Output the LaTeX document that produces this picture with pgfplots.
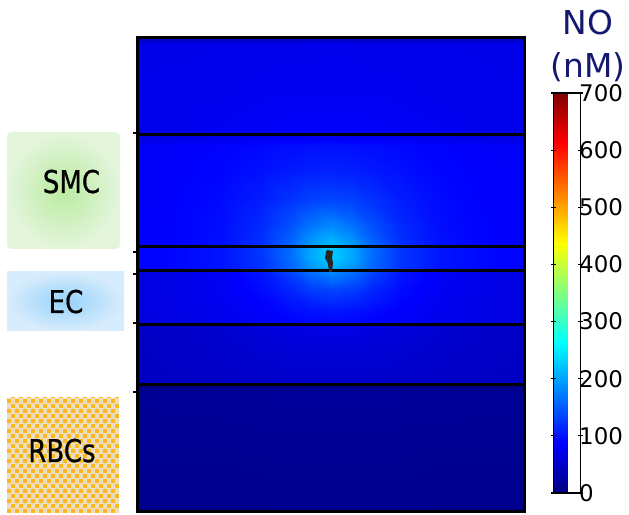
\documentclass[border=0pt]{standalone}
\usepackage{fontspec}
\setmainfont{DejaVu Sans}
\newfontfamily\lblfont[FakeStretch=0.83,FakeBold=0.6]{DejaVu Sans}
\usepackage{pgfplots}
\pgfplotsset{compat=1.18}
\usepackage{pgfplotstable}
\definecolor{navytitle}{RGB}{20,25,110}
\definecolor{smcin}{RGB}{185,235,160}
\definecolor{smcout}{RGB}{228,245,220}
\definecolor{ecin}{RGB}{150,210,250}
\definecolor{ecout}{RGB}{215,236,252}
\definecolor{rbcbg}{RGB}{238,222,192}
\definecolor{rbcsq}{RGB}{250,185,30}

\pgfplotstableread[row sep=\\]{
x y v\\
-193.5 0 9\\ -160 0 9\\ -110 0 9\\ -70 0 9\\ -40 0 9\\ -20 0 9\\ 0 0 9\\ 20 0 9\\ 40 0 9\\ 70 0 9\\ 110 0 9\\ 160 0 9\\ 193.5 0 9\\
-193.5 62 12\\ -160 62 12\\ -110 62 12\\ -70 62 13\\ -40 62 13\\ -20 62 13\\ 0 62 13\\ 20 62 13\\ 40 62 13\\ 70 62 13\\ 110 62 12\\ 160 62 12\\ 193.5 62 12\\
-193.5 117 16\\ -160 117 17\\ -110 117 18\\ -70 117 19\\ -40 117 20\\ -20 117 20\\ 0 117 20\\ 20 117 20\\ 40 117 20\\ 70 117 19\\ 110 117 18\\ 160 117 17\\ 193.5 117 16\\
-193.5 126 4\\ -160 126 5\\ -110 126 7\\ -70 126 9\\ -40 126 9\\ -20 126 10\\ 0 126 10\\ 20 126 10\\ 40 126 9\\ 70 126 9\\ 110 126 7\\ 160 126 5\\ 193.5 126 4\\
-193.5 128 46\\ -160 128 47\\ -110 128 49\\ -70 128 51\\ -40 128 52\\ -20 128 52\\ 0 128 52\\ 20 128 52\\ 40 128 52\\ 70 128 51\\ 110 128 49\\ 160 128 47\\ 193.5 128 46\\
-193.5 157 47\\ -160 157 49\\ -110 157 52\\ -70 157 55\\ -40 157 57\\ -20 157 58\\ 0 157 58\\ 20 157 58\\ 40 157 57\\ 70 157 55\\ 110 157 52\\ 160 157 49\\ 193.5 157 47\\
-193.5 186 48\\ -160 186 50\\ -110 186 55\\ -70 186 62\\ -40 186 67\\ -20 186 70\\ 0 186 71\\ 20 186 70\\ 40 186 67\\ 70 186 62\\ 110 186 55\\ 160 186 50\\ 193.5 186 48\\
-193.5 188 66\\ -160 188 69\\ -110 188 74\\ -70 188 80\\ -40 188 86\\ -20 188 89\\ 0 188 90\\ 20 188 89\\ 40 188 86\\ 70 188 80\\ 110 188 74\\ 160 188 69\\ 193.5 188 66\\
-193.5 202 67\\ -160 202 69\\ -110 202 76\\ -70 202 85\\ -40 202 95\\ -20 202 100\\ 0 202 103\\ 20 202 100\\ 40 202 95\\ 70 202 85\\ 110 202 76\\ 160 202 69\\ 193.5 202 67\\
-193.5 222 67\\ -160 222 70\\ -110 222 79\\ -70 222 94\\ -40 222 113\\ -20 222 128\\ 0 222 134\\ 20 222 128\\ 40 222 113\\ 70 222 94\\ 110 222 79\\ 160 222 70\\ 193.5 222 67\\
-193.5 240 68\\ -160 240 71\\ -110 240 81\\ -70 240 101\\ -40 240 134\\ -20 240 164\\ 0 240 181\\ 20 240 164\\ 40 240 134\\ 70 240 101\\ 110 240 81\\ 160 240 71\\ 193.5 240 68\\
-193.5 242 88\\ -160 242 91\\ -110 242 101\\ -70 242 122\\ -40 242 156\\ -20 242 188\\ 0 242 206\\ 20 242 188\\ 40 242 156\\ 70 242 122\\ 110 242 101\\ 160 242 91\\ 193.5 242 88\\
-193.5 254 88\\ -160 254 91\\ -110 254 101\\ -70 254 124\\ -40 254 163\\ -20 254 204\\ 0 254 228\\ 20 254 204\\ 40 254 163\\ 70 254 124\\ 110 254 101\\ 160 254 91\\ 193.5 254 88\\
-193.5 264 88\\ -160 264 91\\ -110 264 101\\ -70 264 124\\ -40 264 163\\ -20 264 203\\ 0 264 227\\ 20 264 203\\ 40 264 163\\ 70 264 124\\ 110 264 101\\ 160 264 91\\ 193.5 264 88\\
-193.5 266 84\\ -160 266 87\\ -110 266 97\\ -70 266 119\\ -40 266 158\\ -20 266 197\\ 0 266 220\\ 20 266 197\\ 40 266 158\\ 70 266 119\\ 110 266 97\\ 160 266 87\\ 193.5 266 84\\
-193.5 272 84\\ -160 272 87\\ -110 272 97\\ -70 272 119\\ -40 272 155\\ -20 272 191\\ 0 272 211\\ 20 272 191\\ 40 272 155\\ 70 272 119\\ 110 272 97\\ 160 272 87\\ 193.5 272 84\\
-193.5 287 84\\ -160 287 87\\ -110 287 96\\ -70 287 115\\ -40 287 143\\ -20 287 167\\ 0 287 180\\ 20 287 167\\ 40 287 143\\ 70 287 115\\ 110 287 96\\ 160 287 87\\ 193.5 287 84\\
-193.5 312 83\\ -160 312 86\\ -110 312 94\\ -70 312 107\\ -40 312 122\\ -20 312 132\\ 0 312 136\\ 20 312 132\\ 40 312 122\\ 70 312 107\\ 110 312 94\\ 160 312 86\\ 193.5 312 83\\
-193.5 342 83\\ -160 342 85\\ -110 342 90\\ -70 342 98\\ -40 342 104\\ -20 342 108\\ 0 342 109\\ 20 342 108\\ 40 342 104\\ 70 342 98\\ 110 342 90\\ 160 342 85\\ 193.5 342 83\\
-193.5 367 82\\ -160 367 84\\ -110 367 88\\ -70 367 92\\ -40 367 95\\ -20 367 97\\ 0 367 98\\ 20 367 97\\ 40 367 95\\ 70 367 92\\ 110 367 88\\ 160 367 84\\ 193.5 367 82\\
-193.5 375 66\\ -160 375 67\\ -110 375 71\\ -70 375 75\\ -40 375 77\\ -20 375 79\\ 0 375 79\\ 20 375 79\\ 40 375 77\\ 70 375 75\\ 110 375 71\\ 160 375 67\\ 193.5 375 66\\
-193.5 379 74\\ -160 379 75\\ -110 379 79\\ -70 379 82\\ -40 379 84\\ -20 379 86\\ 0 379 86\\ 20 379 86\\ 40 379 84\\ 70 379 82\\ 110 379 79\\ 160 379 75\\ 193.5 379 74\\
-193.5 422 73\\ -160 422 74\\ -110 422 75\\ -70 422 77\\ -40 422 78\\ -20 422 78\\ 0 422 78\\ 20 422 78\\ 40 422 78\\ 70 422 77\\ 110 422 75\\ 160 422 74\\ 193.5 422 73\\
-193.5 468 72\\ -160 468 72\\ -110 468 73\\ -70 468 74\\ -40 468 74\\ -20 468 75\\ 0 468 75\\ 20 468 75\\ 40 468 74\\ 70 468 74\\ 110 468 73\\ 160 468 72\\ 193.5 468 72\\
-193.5 474 39\\ -160 474 39\\ -110 474 40\\ -70 474 41\\ -40 474 41\\ -20 474 41\\ 0 474 41\\ 20 474 41\\ 40 474 41\\ 70 474 41\\ 110 474 40\\ 160 474 39\\ 193.5 474 39\\
}\nodata

\begin{document}
\begin{tikzpicture}[x=1bp,y=1bp]
\useasboundingbox (0,0) rectangle (629,515);
% side labels
\shade[inner color=smcin, outer color=smcout, rounded corners=4bp] (7,266) rectangle (120,383);
\node[anchor=base, inner sep=0pt, font=\lblfont\fontsize{31.5}{32}\selectfont] at (71.5,322) {SMC};
\shade[inner color=ecin, outer color=ecout] (7,184) rectangle (124,243);
\node[anchor=base, inner sep=0pt, font=\lblfont\fontsize{31.5}{32}\selectfont] at (66,202) {EC};
\begin{scope}
\clip (7,2) rectangle (119,117);
\fill[rbcbg] (7,2) rectangle (119,117);
\foreach \j in {0,...,23} {\foreach \i in {0,...,14} {
  \fill[rbcsq] ({7+\i*8+mod(\j,2)*4},{2+\j*5}) rectangle ++(4,3.5);
}}
\end{scope}
\node[anchor=base, inner sep=0pt, font=\lblfont\fontsize{31.5}{32}\selectfont] at (62,53) {RBCs};
% title
\node[anchor=base, inner sep=0pt, text=navytitle, font=\fontsize{33}{34}\selectfont] at (588,480) {NO};
\node[anchor=base, inner sep=0pt, text=navytitle, font=\fontsize{33}{34}\selectfont] at (588,437) {(nM)};
\begin{axis}[
  at={(137,3)}, anchor=south west,
  scale only axis, width=387bp, height=474bp,
  xmin=-193.5, xmax=193.5, ymin=0, ymax=474,
  axis on top,
  axis line style={line width=3bp, black},
  xtick=\empty,
  ytick={120,189,238,260,379}, yticklabels={},
  ytick pos=left, tick align=outside,
  major tick length=4bp,
  tick style={line width=2bp, black},
  colormap/jet,
  point meta min=0, point meta max=700,
  colorbar,
  colorbar style={
    at={(parent axis.north east)}, anchor=north west,
    xshift=21bp, yshift=-55bp,
    scale only axis, width=27bp, height=400bp,
    ytick={0,100,...,700},
    ytick pos=both, yticklabel pos=right,
    tick align=center, major tick length=5bp,
    tick style={line width=1.2bp, black},
    axis line style={line width=1.5bp, black},
    /pgf/number format/assume math mode=true,
    yticklabel style={font=\fontsize{23}{23}\selectfont, inner sep=1bp, xshift=-5bp},
  },
]
\addplot[surf, shader=interp, mesh/cols=13, point meta=explicit]
  table[x=x, y=y, meta=v] {\nodata};
\addplot[black, line width=3bp, forget plot] coordinates {(-193.5,377) (193.5,377)};
\addplot[black, line width=3bp, forget plot] coordinates {(-193.5,265) (193.5,265)};
\addplot[black, line width=3bp, forget plot] coordinates {(-193.5,241) (193.5,241)};
\addplot[black, line width=3bp, forget plot] coordinates {(-193.5,187) (193.5,187)};
\addplot[black, line width=3bp, forget plot] coordinates {(-193.5,127) (193.5,127)};
\addplot[fill=black!85, draw=none, forget plot] coordinates {
  (-3.5,262) (2.5,261) (1.5,254) (2.5,249) (1.5,240) (-1.5,240) (-2.5,248) (-5.5,254) (-4.5,260)} -- cycle;
\end{axis}
\end{tikzpicture}
\end{document}
